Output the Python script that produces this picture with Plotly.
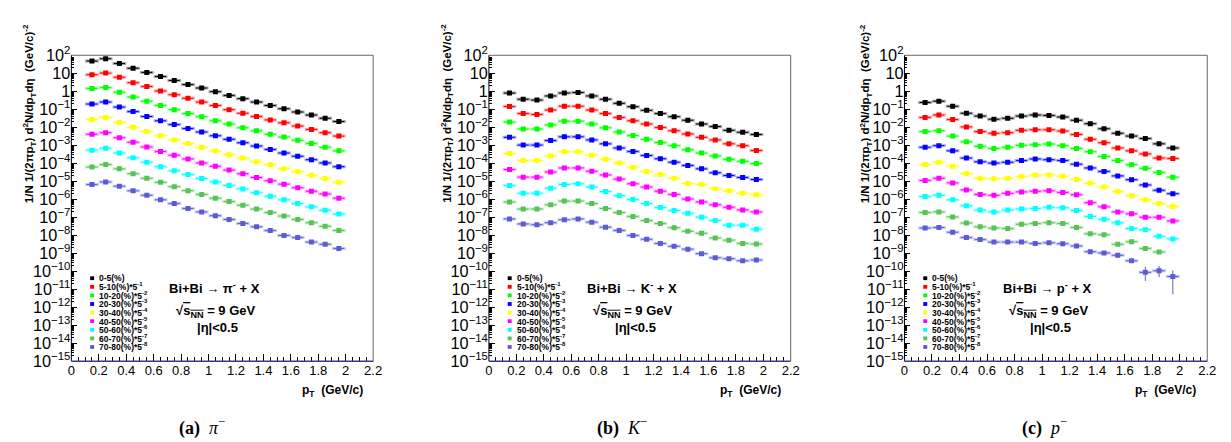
import plotly.graph_objects as go

# ---------------- data ----------------
pt_bins = [0.15, 0.25, 0.35, 0.45, 0.55, 0.65, 0.75, 0.85, 0.95, 1.05,
           1.15, 1.25, 1.35, 1.45, 1.55, 1.65, 1.75, 1.85, 1.95]
bin_half_width = 0.05

centrality_labels = ["0-5(%)", "5-10(%)*5<sup>-1</sup>", "10-20(%)*5<sup>-2</sup>",
                     "20-30(%)*5<sup>-3</sup>", "30-40(%)*5<sup>-4</sup>", "40-50(%)*5<sup>-5</sup>",
                     "50-60(%)*5<sup>-6</sup>", "60-70(%)*5<sup>-7</sup>", "70-80(%)*5<sup>-8</sup>"]
series_colors = ["#000000", "#ff0000", "#00ff00", "#0000ff", "#ffff00",
                 "#ff00ff", "#00ffff", "#55c455", "#5b5bd6"]

# log10 of 1/N 1/(2 pi pT) d2N/dpTdeta (scaled), pi-
pim_0_5 = [1.68, 1.81, 1.54, 1.28, 1.05, 0.82, 0.60, 0.37, 0.18, -0.02, -0.23, -0.41, -0.60, -0.79, -0.97, -1.15, -1.32, -1.50, -1.68]
pim_5_10 = [0.92, 1.01, 0.78, 0.48, 0.27, 0.02, -0.19, -0.39, -0.60, -0.79, -1.02, -1.22, -1.40, -1.59, -1.75, -1.93, -2.12, -2.30, -2.49]
pim_10_20 = [0.16, 0.21, -0.05, -0.32, -0.55, -0.79, -1.02, -1.24, -1.41, -1.64, -1.82, -2.03, -2.19, -2.39, -2.54, -2.72, -2.90, -3.11, -3.31]
pim_20_30 = [-0.71, -0.60, -0.88, -1.13, -1.40, -1.64, -1.85, -2.07, -2.26, -2.47, -2.67, -2.86, -3.04, -3.23, -3.43, -3.61, -3.80, -3.98, -4.19]
pim_30_40 = [-1.57, -1.45, -1.73, -2.00, -2.23, -2.47, -2.70, -2.90, -3.11, -3.32, -3.52, -3.71, -3.91, -4.08, -4.30, -4.47, -4.67, -4.84, -5.06]
pim_40_50 = [-2.39, -2.30, -2.58, -2.83, -3.09, -3.34, -3.55, -3.76, -3.98, -4.17, -4.38, -4.58, -4.79, -4.97, -5.16, -5.36, -5.55, -5.71, -5.94]
pim_50_60 = [-3.27, -3.16, -3.43, -3.69, -3.94, -4.19, -4.42, -4.63, -4.84, -5.04, -5.23, -5.43, -5.64, -5.83, -6.03, -6.24, -6.42, -6.61, -6.82]
pim_60_70 = [-4.21, -4.07, -4.31, -4.58, -4.83, -5.06, -5.30, -5.52, -5.73, -5.94, -6.13, -6.33, -6.54, -6.74, -6.93, -7.12, -7.30, -7.50, -7.73]
pim_70_80 = [-5.18, -5.04, -5.27, -5.53, -5.78, -6.03, -6.24, -6.51, -6.70, -6.91, -7.12, -7.34, -7.53, -7.74, -8.01, -8.13, -8.38, -8.50, -8.73]

# K-
km_0_5 = [-0.10, -0.44, -0.49, -0.26, -0.10, -0.07, -0.26, -0.44, -0.67, -0.86, -1.06, -1.24, -1.41, -1.61, -1.82, -1.96, -2.17, -2.28, -2.40]
km_5_10 = [-0.85, -1.24, -1.29, -1.04, -0.83, -0.83, -1.04, -1.24, -1.45, -1.64, -1.82, -2.01, -2.19, -2.37, -2.56, -2.70, -2.92, -3.02, -3.29]
km_10_20 = [-1.71, -2.10, -2.10, -1.87, -1.66, -1.66, -1.82, -2.03, -2.26, -2.46, -2.67, -2.85, -3.02, -3.25, -3.43, -3.59, -3.78, -3.89, -4.01]
km_20_30 = [-2.56, -2.99, -2.99, -2.74, -2.53, -2.53, -2.70, -2.92, -3.15, -3.34, -3.57, -3.75, -3.94, -4.12, -4.31, -4.53, -4.68, -4.79, -4.90]
km_30_40 = [-3.46, -3.85, -3.85, -3.59, -3.36, -3.36, -3.55, -3.78, -3.99, -4.22, -4.45, -4.63, -4.83, -5.13, -5.18, -5.41, -5.53, -5.67, -5.75]
km_40_50 = [-4.35, -4.77, -4.77, -4.49, -4.26, -4.26, -4.44, -4.65, -4.88, -5.14, -5.32, -5.55, -5.73, -5.99, -6.15, -6.31, -6.44, -6.59, -6.70]
km_50_60 = [-5.23, -5.67, -5.67, -5.39, -5.18, -5.14, -5.32, -5.57, -5.80, -6.01, -6.24, -6.45, -6.63, -6.77, -7.00, -7.18, -7.44, -7.44, -7.66]
km_60_70 = [-6.15, -6.54, -6.54, -6.31, -6.10, -6.10, -6.24, -6.51, -6.74, -6.95, -7.18, -7.35, -7.58, -7.78, -7.89, -8.15, -8.27, -8.45, -8.49]
km_70_80 = [-7.09, -7.37, -7.41, -7.30, -7.14, -7.09, -7.27, -7.55, -7.73, -8.01, -8.22, -8.45, -8.61, -8.77, -9.02, -9.25, -9.30, -9.42, -9.37]

# p- (antiproton)
pbar_0_5 = [-0.62, -0.55, -0.83, -1.22, -1.38, -1.55, -1.50, -1.38, -1.32, -1.34, -1.43, -1.61, -1.80, -2.08, -2.33, -2.49, -2.62, -2.92, -3.15]
pbar_5_10 = [-1.45, -1.32, -1.57, -1.98, -2.24, -2.33, -2.30, -2.17, -2.14, -2.14, -2.21, -2.40, -2.67, -2.86, -3.15, -3.31, -3.48, -3.71, -3.73]
pbar_10_20 = [-2.24, -2.19, -2.49, -2.81, -3.06, -3.18, -3.11, -3.00, -2.97, -2.93, -3.02, -3.18, -3.36, -3.62, -3.85, -4.08, -4.28, -4.51, -4.77]
pbar_20_30 = [-3.11, -3.02, -3.31, -3.71, -3.92, -3.99, -3.94, -3.85, -3.76, -3.80, -3.85, -4.05, -4.26, -4.45, -4.70, -4.91, -5.20, -5.50, -5.69]
pbar_30_40 = [-4.07, -3.94, -4.17, -4.58, -4.83, -4.86, -4.83, -4.74, -4.65, -4.65, -4.72, -4.90, -5.11, -5.32, -5.57, -5.80, -6.03, -6.24, -6.40]
pbar_40_50 = [-4.95, -4.83, -5.09, -5.48, -5.73, -5.78, -5.67, -5.59, -5.55, -5.53, -5.62, -5.75, -6.19, -6.42, -6.70, -6.81, -7.00, -7.00, -7.20]
pbar_50_60 = [-5.85, -5.78, -6.03, -6.36, -6.59, -6.70, -6.59, -6.54, -6.51, -6.44, -6.47, -6.63, -6.95, -7.11, -7.30, -7.62, -7.69, -8.06, -8.20]
pbar_60_70 = [-6.74, -6.70, -6.98, -7.32, -7.53, -7.60, -7.62, -7.39, -7.35, -7.30, -7.35, -7.57, -7.92, -7.97, -8.50, -8.36, -8.73, -8.93, None]
pbar_70_80 = [-7.60, -7.57, -7.83, -8.13, -8.24, -8.38, -8.38, -8.38, -8.45, -8.42, -8.47, -8.59, -8.91, -8.98, -9.11, -9.42, -10.06, -9.97, -10.29]
# visible statistical errors (linear units) on the most peripheral antiproton points
pbar_70_80_err_up = [0] * 16 + [9.5e-11, 9.0e-11, 6.0e-11]
pbar_70_80_err_dn = [0] * 16 + [5.8e-11, 6.0e-11, 4.6e-11]

panel_series = [
    [pim_0_5, pim_5_10, pim_10_20, pim_20_30, pim_30_40, pim_40_50, pim_50_60, pim_60_70, pim_70_80],
    [km_0_5, km_5_10, km_10_20, km_20_30, km_30_40, km_40_50, km_50_60, km_60_70, km_70_80],
    [pbar_0_5, pbar_5_10, pbar_10_20, pbar_20_30, pbar_30_40, pbar_40_50, pbar_50_60, pbar_60_70, pbar_70_80],
]
reactions = ["Bi+Bi \u2192 \u03c0<sup>-</sup> + X", "Bi+Bi \u2192 K<sup>-</sup> + X", "Bi+Bi \u2192 p<sup>-</sup> + X"]
captions = ["<b>(a)</b>\u00a0 <i>\u03c0</i><sup>\u2212</sup>", "<b>(b)</b>\u00a0 <i>K</i><sup>\u2212</sup>", "<b>(c)</b>\u00a0 <i>p</i><sup>\u2212</sup>"]

# ---------------- layout geometry (pixels) ----------------
W, H = 1231, 442
PX0 = [60, 482, 902]
PX1 = [365, 787, 1208]
Y_TOP, Y_BOT = 38, 358.5
YTITLE_X = [18, 440, 863]
CAPTION_X = [192, 617, 1044]
FONT = "Liberation Sans"


def px(x):
    return x / W


def py(y):
    return 1 - y / H


def rgba(hexcol, a):
    h = hexcol.lstrip("#")
    return "rgba(%d,%d,%d,%.2f)" % (int(h[0:2], 16), int(h[2:4], 16), int(h[4:6], 16), a)


fig = go.Figure()
suffixes = ["", "2", "3"]
for p, series_list in enumerate(panel_series):
    xa, ya = "x" + suffixes[p], "y" + suffixes[p]
    for k, logs in enumerate(series_list):
        col = series_colors[k]
        yv = [None if v is None else 10 ** v for v in logs]
        # light systematic band
        fig.add_trace(go.Scatter(
            x=pt_bins, y=yv, xaxis=xa, yaxis=ya, mode="markers",
            marker=dict(size=1, color="rgba(0,0,0,0)"),
            error_x=dict(type="constant", value=bin_half_width, color=rgba(col, 0.35), thickness=3, width=0),
            showlegend=False, hoverinfo="skip"))
        ey = None
        if p == 2 and k == 8:
            ey = dict(type="data", array=pbar_70_80_err_up, arrayminus=pbar_70_80_err_dn,
                      color=col, thickness=1, width=0)
        fig.add_trace(go.Scatter(
            x=pt_bins, y=yv, xaxis=xa, yaxis=ya, mode="markers",
            marker=dict(symbol="square", size=5, color=col, line=dict(width=0)),
            error_x=dict(type="constant", value=bin_half_width * 0.8, color=col, thickness=1, width=0),
            error_y=ey, name=centrality_labels[k], showlegend=False))

layout = dict(width=W, height=H, margin=dict(l=0, r=0, t=0, b=0),
              paper_bgcolor="white", plot_bgcolor="white",
              font=dict(family=FONT, color="black", size=13), showlegend=False)
shapes, annotations = [], []
for p in range(3):
    s = suffixes[p]
    layout["xaxis" + s] = dict(
        domain=[px(PX0[p]), px(PX1[p])], anchor="y" + s, range=[0, 2.2],
        tick0=0, dtick=0.2, ticks="inside", ticklen=7, tickcolor="black", tickwidth=1,
        minor=dict(ticks="inside", ticklen=4, dtick=0.05, tickcolor="black", tickwidth=1, showgrid=False),
        showgrid=False, zeroline=False, showline=False,
        tickfont=dict(family=FONT, size=13, color="black"))
    layout["yaxis" + s] = dict(
        domain=[py(Y_BOT), py(Y_TOP)], anchor="x" + s, type="log", range=[-15, 2],
        dtick=1, exponentformat="power", ticks="inside", ticklen=6, tickcolor="black",
        minor=dict(ticks="inside", ticklen=3, dtick="D1", tickcolor="black", showgrid=False),
        showgrid=False, zeroline=False, showline=False,
        tickfont=dict(family=FONT, size=13, color="black"))
    x0, x1 = px(PX0[p]), px(PX1[p])
    yt, yb = py(Y_TOP), py(Y_BOT)
    shapes += [
        dict(type="line", xref="paper", yref="paper", x0=x0, x1=x1, y0=yt, y1=yt, line=dict(color="#666666", width=1)),
        dict(type="line", xref="paper", yref="paper", x0=x1, x1=x1, y0=yt, y1=yb, line=dict(color="#666666", width=1)),
        dict(type="line", xref="paper", yref="paper", x0=x0, x1=x0, y0=yt, y1=yb, line=dict(color="black", width=1)),
        dict(type="line", xref="paper", yref="paper", x0=x0, x1=x1, y0=yb, y1=yb, line=dict(color="#3a3a8a", width=1.5)),
    ]
    # legend
    for k in range(9):
        ry = 271.5 + 9.0 * k
        cx = PX0[p] + 21
        shapes.append(dict(type="rect", xref="paper", yref="paper",
                           x0=px(cx - 2), x1=px(cx + 2), y0=py(ry + 2), y1=py(ry - 2),
                           fillcolor=series_colors[k], line=dict(width=0)))
        annotations.append(dict(x=px(PX0[p] + 26), y=py(ry), xref="paper", yref="paper",
                                xanchor="left", yanchor="middle", showarrow=False,
                                text="<b>" + centrality_labels[k] + "</b>",
                                font=dict(family=FONT, size=8.5, color="black")))
    cxt = PX0[p] + 145
    annotations.append(dict(x=px(cxt), y=py(282), xref="paper", yref="paper", showarrow=False,
                            xanchor="center", yanchor="middle", text="<b>" + reactions[p] + "</b>",
                            font=dict(family=FONT, size=13, color="black")))
    annotations.append(dict(x=px(cxt + 1), y=py(306.5), xref="paper", yref="paper", showarrow=False,
                            xanchor="center", yanchor="middle",
                            text="<b>\u221a<span style='text-decoration:overline'>s<sub>NN</sub></span> = 9 GeV</b>",
                            font=dict(family=FONT, size=13, color="black")))
    annotations.append(dict(x=px(cxt + 3), y=py(323), xref="paper", yref="paper", showarrow=False,
                            xanchor="center", yanchor="middle", text="<b>|\u03b7|&lt;0.5</b>",
                            font=dict(family=FONT, size=13, color="black")))
    # axis titles
    annotations.append(dict(x=px(PX0[p] + 297), y=py(379), xref="paper", yref="paper", showarrow=False,
                            xanchor="right", yanchor="top",
                            text="<b>p<sub>T</sub>\u00a0\u00a0(GeV/c)</b>",
                            font=dict(family=FONT, size=12, color="black")))
    annotations.append(dict(x=px(YTITLE_X[p]), y=py(3), xref="paper", yref="paper", showarrow=False,
                            xanchor="center", yanchor="top", textangle=-90,
                            text="<b>1/N 1/(2\u03c0p<sub>T</sub>) d<sup>2</sup>N/dp<sub>T</sub>d\u03b7\u00a0\u00a0(GeV/c)<sup>-2</sup></b>",
                            font=dict(family=FONT, size=11.5, color="black")))
    annotations.append(dict(x=px(CAPTION_X[p]), y=py(427), xref="paper", yref="paper", showarrow=False,
                            xanchor="center", yanchor="middle", text=captions[p],
                            font=dict(family="Liberation Serif", size=18, color="black")))

layout["shapes"] = shapes
layout["annotations"] = annotations
fig.update_layout(**layout)
fig.write_html("out.html", include_plotlyjs=True, config={"displayModeBar": False})
